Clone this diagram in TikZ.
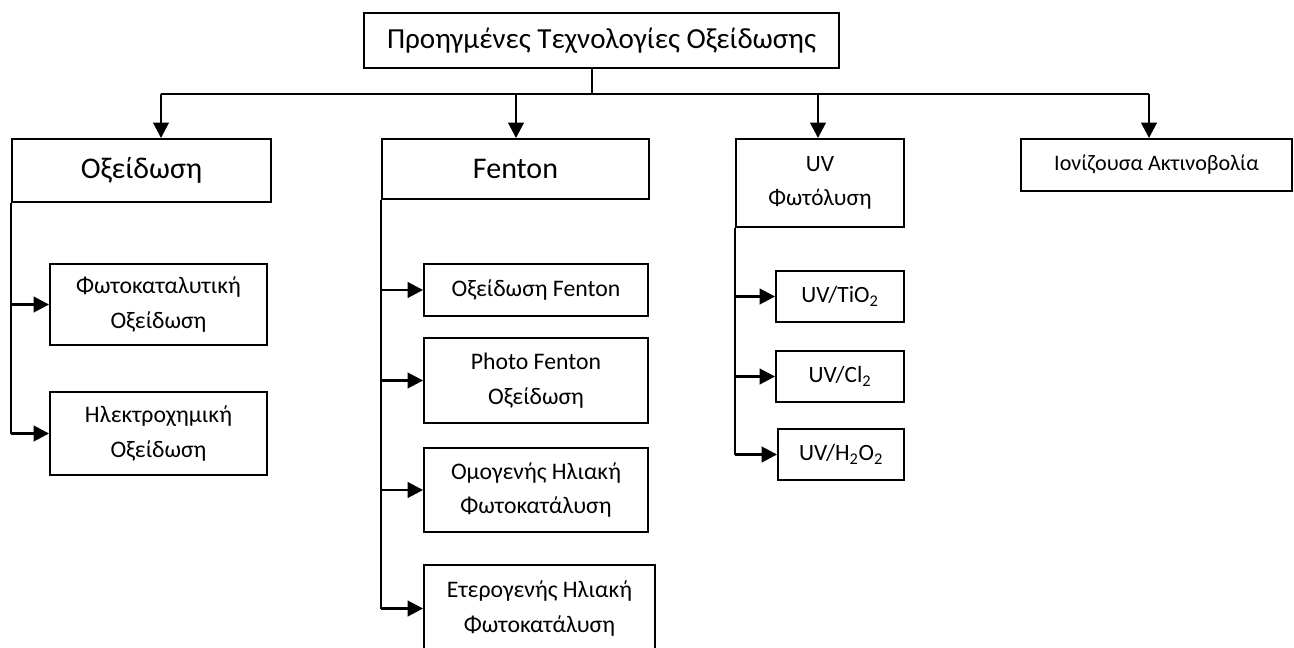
\documentclass[tikz,border=0pt]{standalone}
\usepackage{fontspec}
\setmainfont{Carlito}
\usetikzlibrary{arrows.meta}
\newcommand\pxu{0.75pt}
\begin{document}
\begin{tikzpicture}[x=0.75pt,y=-0.75pt,
  bx/.style={draw, line width=1.4pt, inner sep=0pt, align=center},
  ln/.style={line width=1.7pt},
  thin/.style={line width=1.0pt},
  arr/.style={line width=2pt, -{Triangle[length=11.5pt,width=11.5pt]}},
  hd/.style={font=\fontsize{22.5}{26}\selectfont},
  tt/.style={font=\fontsize{21.8}{26}\selectfont},
  md/.style={font=\fontsize{17.5}{26}\selectfont},
  io/.style={font=\fontsize{16.6}{26}\selectfont},
  sb/.style={font=\fontsize{17.8}{26}\selectfont}]
\useasboundingbox (0,0) rectangle (1294,648);
% top
\node[bx, tt, minimum width=475*\pxu, minimum height=55*\pxu] (title) at (601.5,40.5) {Προηγμένες Τεχνολογίες Οξείδωσης};
% level 1
\node[bx, hd, minimum width=259*\pxu, minimum height=63*\pxu] (ox) at (141.5,170.5) {Οξείδωση};
\node[bx, hd, minimum width=267*\pxu, minimum height=60*\pxu] (fen) at (515.5,169) {Fenton};
\node[bx, md, minimum width=168*\pxu, minimum height=88*\pxu] (uv) at (820,183) {UV\\Φωτόλυση};
\node[bx, io, minimum width=271*\pxu, minimum height=52*\pxu] (ion) at (1156.5,165) {Ιονίζουσα Ακτινοβολία};
% level 2 left
\node[bx, sb, minimum width=217*\pxu, minimum height=81*\pxu] (phk) at (158.5,304.5) {Φωτοκαταλυτική\\Οξείδωση};
\node[bx, sb, minimum width=217*\pxu, minimum height=83*\pxu] (ilek) at (158.5,433.5) {Ηλεκτροχημική\\Οξείδωση};
% level 2 Fenton
\node[bx, sb, minimum width=224*\pxu, minimum height=52*\pxu] (of) at (536,290) {Οξείδωση Fenton};
\node[bx, sb, minimum width=224*\pxu, minimum height=85*\pxu] (pf) at (536,380.5) {Photo Fenton\\Οξείδωση};
\node[bx, sb, minimum width=224*\pxu, minimum height=84*\pxu] (om) at (536,490) {Ομογενής Ηλιακή\\Φωτοκατάλυση};
\node[bx, sb, minimum width=231*\pxu, minimum height=87*\pxu] (et) at (539.5,608.5) {Ετερογενής Ηλιακή\\Φωτοκατάλυση};
% level 2 UV
\node[bx, md, minimum width=128*\pxu, minimum height=51*\pxu] (tio) at (840,296.5) {UV/TiO\textsubscript{2}};
\node[bx, md, minimum width=128*\pxu, minimum height=51*\pxu] (cl) at (840,376.5) {UV/Cl\textsubscript{2}};
\node[bx, md, minimum width=126*\pxu, minimum height=51*\pxu] (hoo) at (841,454.5) {UV/H\textsubscript{2}O\textsubscript{2}};
% bus
\coordinate (stem) at (592,94);
\coordinate (a1) at (161,94);
\coordinate (a2) at (516,94);
\coordinate (a3) at (818,94);
\coordinate (a4) at (1149,94);
\draw[thin] (title.south -| stem) -- (stem);
\draw[ln] (a1) -- (a4);
\draw[arr] (a1) -- (a1 |- ox.north);
\draw[arr] (a2) -- (a2 |- fen.north);
\draw[arr] (a3) -- (a3 |- uv.north);
\draw[arr] (a4) -- (a4 |- ion.north);
% left trunk
\draw[ln] (ox.south west) -- (ox.south west |- ilek.west);
\draw[arr] (ox.south west |- phk.west) -- (phk.west);
\draw[arr] (ox.south west |- ilek.west) -- (ilek.west);
% Fenton trunk
\draw[ln] (fen.south west) -- (fen.south west |- et.west);
\draw[arr] (fen.south west |- of.west) -- (of.west);
\draw[arr] (fen.south west |- pf.west) -- (pf.west);
\draw[arr] (fen.south west |- om.west) -- (om.west);
\draw[arr] (fen.south west |- et.west) -- (et.west);
% UV trunk
\draw[ln] (uv.south west) -- (uv.south west |- hoo.west);
\draw[arr] (uv.south west |- tio.west) -- (tio.west);
\draw[arr] (uv.south west |- cl.west) -- (cl.west);
\draw[arr] (uv.south west |- hoo.west) -- (hoo.west);
\end{tikzpicture}
\end{document}
